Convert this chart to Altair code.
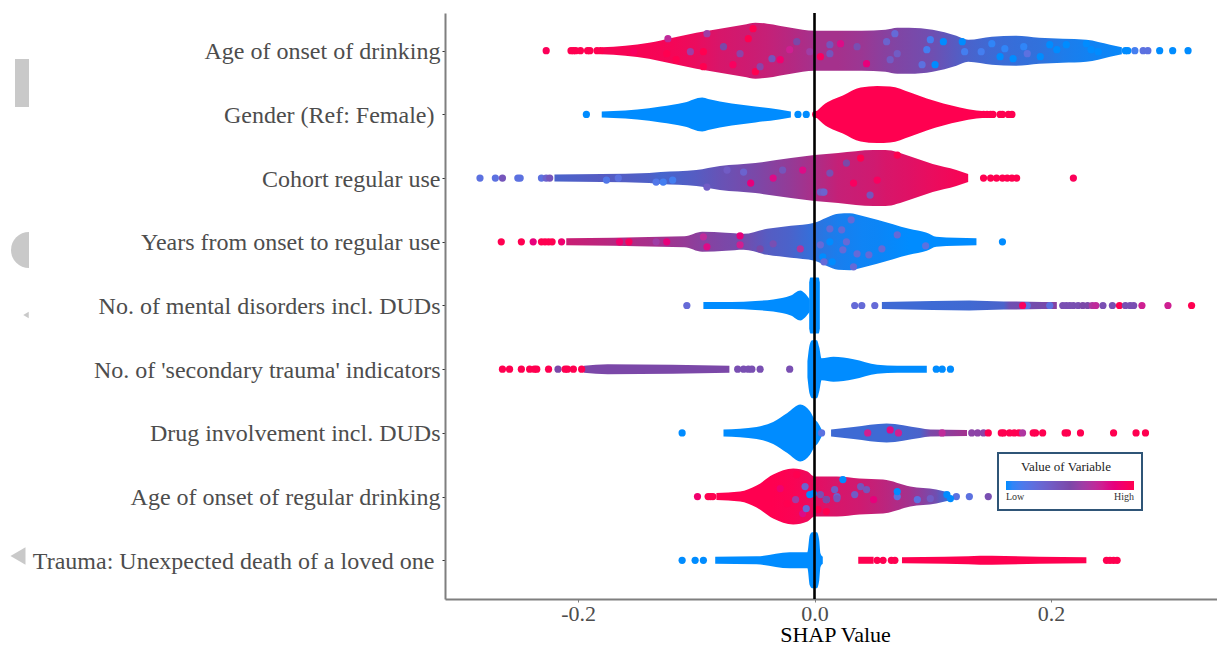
import altair as alt
import pandas as pd

ROW_GAP = 63.7
LOW, MID, HIGH = "#008cff", "#7b48a8", "#ff0050"
SERIF = "Liberation Serif"

features = [
    "Age of onset of drinking",
    "Gender (Ref: Female)\u00a0\u200b",
    "Cohort regular use",
    "Years from onset to regular use",
    "No. of mental disorders incl. DUDs",
    "No. of 'secondary trauma' indicators",
    "Drug involvement incl. DUDs",
    "Age of onset of regular drinking",
    "Trauma: Unexpected death of a loved one\u00a0\u200b",
]

# Swarm outlines: row, SHAP values, half thickness, feature value
lobes = [
    (0, [-.18, -.16, -.14, -.12, -.10, -.08, -.06, -.05, -.04, -.02, 0, .02, .04, .06, .07, .08, .10, .12, .13, .15, .17, .19, .21, .23, .25, .26],
        [3.5, 5, 8, 13, 18, 22, 26, 28, 27, 23, 20, 20, 20, 21, 23, 23, 21, 15, 11, 14, 15, 13, 12, 11, 6, 3.5],
        [.97, .97, .97, .96, .92, .85, .82, .80, .78, .72, .66, .66, .62, .55, .52, .5, .45, .35, .3, .25, .22, .2, .12, .08, .05, .03]),
    (1, [-.18, -.17, -.15, -.13, -.11, -.095, -.09, -.07, -.05, -.03, -.02],
        [3, 3.5, 5, 8, 12, 17, 15.5, 11, 8, 5, 3], [0] * 11),
    (1, [.002, .007, .024, .039, .053, .064, .081, .095, .109, .123, .137, .142],
        [3.5, 9, 19, 27, 28.5, 28, 22, 16, 11, 7, 4, 3.5], [1] * 12),
    (2, [-.22, -.18, -.14, -.13, -.10, -.08, -.05, -.02, 0, .02, .05, .06, .08, .10, .12, .13],
        [3.5, 4, 5, 6, 8, 12, 15, 20, 23, 25, 28, 28, 22, 14, 8, 4],
        [.3, .35, .32, .28, .35, .42, .5, .6, .68, .78, .82, .85, .88, .92, .96, .97]),
    (3, [-.21, -.17, -.13, -.11, -.095, -.075, -.06, -.04, -.02, 0, .01, .02, .03, .04, .053, .08, .095, .103, .12, .137],
        [3.5, 4, 5, 5.5, 10, 9, 8, 13, 16, 19, 24, 28, 28.5, 26, 22, 13, 9, 5, 4, 3.5],
        [.8, .72, .65, .6, .55, .5, .48, .35, .3, .2, .15, .1, .08, .06, .05, 0, 0, 0, 0, 0]),
    (4, [-.094, -.07, -.05, -.035, -.02, -.012, -.008, -.004],
        [3.5, 3.5, 4.5, 6, 10, 15, 12, 6], [0] * 8),
    (4, [-.0045, -.0035, .0035, .0045], [23, 28, 28, 23], [0] * 4),
    (4, [.057, .10, .131, .16, .165, .193, .205],
        [3.5, 4.5, 5, 4, 4, 3.5, 3.5], [.25, .25, .26, .3, .45, .48, .55]),
    (5, [-.195, -.175, -.12, -.072], [3.5, 5, 4.5, 3.5], [.5, .5, .5, .5]),
    (5, [-.006, -.004, -.002, .002, .004, .006, .016, .033, .053, .07, .095],
        [8, 25, 29, 29, 22, 11, 12.5, 10, 4.5, 3.5, 3.5], [0] * 11),
    (6, [-.077, -.049, -.035, -.023, -.012, -.004, 0, .003, .006],
        [3.5, 6, 11, 20, 28.5, 22, 14, 10, 3.5], [0] * 9),
    (6, [.014, .033, .061, .089, .098, .129], [3.5, 6, 9.5, 5, 3.5, 3],
        [.25, .25, .25, .3, .5, .65]),
    (7, [-.083, -.063, -.049, -.035, -.018, -.006, 0, .019, .038, .058, .081, .103, .114],
        [3.5, 5, 11, 22, 28, 25, 20, 20, 18, 17, 10, 7, 4],
        [1, 1, 1, 1, .98, .94, .9, .85, .82, .75, .65, .45, .2]),
    (8, [-.084, -.049, -.021, -.006, -.004, -.002, .002, .004, .005, .007],
        [3.5, 4, 8, 8, 25, 28, 28, 20, 7, 3.5], [0] * 10),
    (8, [.037, .05], [3.5, 3.5], [1, 1]),
    (8, [.074, .11, .15, .19, .23], [3, 3.5, 4.5, 3.5, 3], [1] * 5),
]

# Isolated dots: SHAP value and feature value, per row
dots_x = {
    0: [-.227, -.206, -.204, -.202, -.198, -.192, -.190, -.184, -.181, .263, .265, .271, .278, .282, .292, .303, .316],
    1: [-.193, -.014, -.007, .001, .143, .146, .149, .151, .157, .159, .164, .167],
    2: [-.283, -.270, -.264, -.251, -.249, -.231, -.227, -.224, .143, .149, .154, .159, .163, .167, .171, .219],
    3: [-.265, -.248, -.238, -.231, -.228, -.225, -.222, -.214, .159],
    4: [-.108, .034, .040, .051, .21, .213, .216, .219, .223, .227, .231, .235, .238, .244, .252, .258, .263, .267, .27, .277, .299, .319],
    5: [-.264, -.258, -.248, -.241, -.237, -.235, -.225, -.217, -.211, -.209, -.204, -.197, -.065, -.060, -.056, -.053, -.046, -.021, .103, .108, .115],
    6: [-.112, .006, .133, .138, .143, .147, .158, .160, .165, .169, .173, .176, .185, .187, .193, .212, .214, .225, .253, .272, .28],
    7: [-.099, -.09, -.088, -.086, .120, .131, .147],
    8: [-.112, -.101, -.094, .053, .058, .065, .068, .247, .25, .253, .256],
}
dots_c = {
    0: [.97, 1, 1, 1, 1, 1, 1, 1, 1, 0, 0, .1, .2, .2, 0, 0, 0],
    1: [0, 0, 0, 1, 1, 1, 1, 1, 1, 1, 1, 1],
    2: [.2, .2, .4, .2, .2, .2, .3, .4, 1, 1, 1, 1, 1, 1, 1, .97],
    3: [1, 1, .85, 1, 1, 1, 1, .9, 0],
    4: [.25, .25, .25, .25, .45, .45, .45, .45, .45, .5, .5, .65, .7, .45, .45, 1, .45, .45, .45, .75, .75, 1],
    5: [1, 1, 1, 1, 1, 1, 1, .5, 1, 1, 1, 1, .45, .45, .45, .45, .45, .45, 0, 0, 0],
    6: [0, .2, .55, .55, .55, 1, 1, 1, 1, 1, 1, .65, 1, 1, 1, 1, 1, 1, 1, 1, 1],
    7: [.9, 1, 1, 1, .2, .2, .45],
    8: [0, 0, 0, 1, 1, 1, 1, 1, 1, 1, 1],
}

# Distinct dots seen inside the swarms: SHAP value, offset from the row centre, feature value
spots_x = {
    0: [-.153, -.124, -.091, -.105, -.094, -.094, -.056, -.052, -.036, -.050, -.063, -.077, -.015, .013, -.004, -.029, -.046, -.117, -.125, -.069, -.021,
        .068, .061, .070, .095, .098, .091, .102, .109, .127, .125, .141, .150, .157, .168, .177, .191, .199, .205, .213, .230, .234, .240, .161, .180, .005, .022, .044, .013, .036, .064],
    2: [-.166, -.176, -.134, -.120, -.128, -.091, -.054, -.074, -.060, -.035, -.010, .007, -.027, .005, .008, .039, .070, .047, .013, .033, .053, .027],
    3: [-.165, -.157, -.134, -.125, -.094, -.091, -.063, -.063, -.012, -.035, -.046, .007, .013, .015,
        .005, .013, .023, .027, .031, .036, .046, .033, .057, .070, .094, .008, .024],
    4: [.180, .199, .176],
    6: [.045, .064, .071, .108],
    7: [-.001, -.008, -.016, -.015, -.029, -.039, -.023, -.010, .010, .019, -.007,
        .024, .017, .034, .039, .044, .005, .010, .019, .070, .070, .087, .098, .112, .115, .003, .010, -.004, .050],
}
spots_off = {
    0: [1, -12, -17, 1, 1, 16, -12, -22, 8, 21, 3, -4, -9, -6, 1, 9, 16, 9, 3, 14, -1,
        -17, -9, 3, -1, -11, 14, 14, -9, 1, -9, 1, -7, 6, 8, -4, 6, -6, -1, -6, -7, -1, 1, -2, 3, 6, -7, 13, 3, -4, 9],
    2: [0, 2, 4, 2, 4, 9, 5, -8, -6, 0, -8, 14, -8, 14, 14, -20, -23, 17, -5, 5, 2, -15],
    3: [0, 0, 0, 0, -5, 5, -6, 3, 7, 2, 7, 15, 0, 20, 3, -13, -12, 0, -22, 12, 13, 25, 7, -7, 4, 20, 8],
    4: [0, 0, 0],
    6: [0, -3, 0, 0],
    7: [-3, -10, 3, -22, -8, 7, 7, 17, 3, 0, 12, -17, -7, -2, -10, -7, -2, 3, 2, 0, -5, 3, 2, -2, 2, 13, 15, -2, 3],
}
spots_c = {
    0: [.95, .7, .6, .6, 1, 1, 1, 1, .4, 1, .55, .5, .5, .4, .6, .9, .55, 1, 1, .95, .75,
        .25, .3, .35, .1, .1, .2, 0, 0, .1, 0, .1, .05, 0, 0, .05, 0, 0, 0, 0, 0, 0, 0, .05, .2, .95, .8, .85, .4, .45, .35],
    2: [.2, .15, .15, .1, .1, .35, .85, .35, .3, .8, .8, .35, .4, .35, .3, 1, 1, .4, .45, .95, .95, .5],
    3: [.9, .95, .6, .85, .7, .8, .85, .75, .65, .45, .5, 0, 0, 0,
        .25, .25, .25, .25, .25, .25, .25, .25, .25, .25, .2, .25, .25],
    4: [.2, .2, .95],
    6: [.75, .8, .75, .7],
    7: [0, .3, .6, 1, .9, 1, 1, .8, .3, .3, .25, 0, .35, .35, .4, .4, .45, .5, .4, .2, 0, .2, .35, 0, 0, 1, 1, 0, .85],
}

x_ticks = [-0.2, 0.0, 0.2]
x_tick_labels = ["-0.2", "0.0", "0.2"]


def mix(c):
    def rgb(h):
        return [int(h[i:i + 2], 16) for i in (1, 3, 5)]
    a, b, t = (LOW, MID, c * 2) if c < .5 else (MID, HIGH, c * 2 - 1)
    return "#" + "".join(f"{round(p + (q - p) * t):02x}" for p, q in zip(rgb(a), rgb(b)))


x_scale = alt.Scale(domain=[-0.3126, 0.3405], nice=False, zero=False)
y_scale = alt.Scale(domain=[8.608, -0.592], nice=False, zero=False)

label_lookup = "[" + ",".join('"' + f.replace("'", "\\'") + '"' for f in features) + "][datum.value]"
tick_lookup = f"datum.value<0?'{x_tick_labels[0]}':datum.value>0?'{x_tick_labels[2]}':'{x_tick_labels[1]}'"

x_axis = alt.Axis(values=x_ticks, labelExpr=tick_lookup, grid=False,
                  domainColor="#7f7f7f", domainWidth=2, tickColor="#7f7f7f",
                  tickSize=3, labelFont=SERIF, labelFontSize=22, labelColor="#4d4d4d",
                  labelPadding=1, titleFont=SERIF, titleFontSize=22,
                  titleFontWeight="normal", titleColor="#000000",
                  titleX=390, titleY=42, titleBaseline="alphabetic")
y_axis = alt.Axis(values=list(range(len(features))), labelExpr=label_lookup, grid=False,
                  domainColor="#7f7f7f", domainWidth=2, tickColor="#333333",
                  tickSize=3, labelFont=SERIF, labelFontSize=24, labelColor="#4d4d4d",
                  labelPadding=2, labelLimit=600, labelOffset=1)

layers = []
for row, xs, hws, cs in lobes:
    df = pd.DataFrame({
        "x": xs,
        "top": [row - h / ROW_GAP for h in hws],
        "bot": [row + h / ROW_GAP for h in hws],
    })
    span = xs[-1] - xs[0]
    stops = [alt.GradientStop(color=mix(c), offset=(x - xs[0]) / span) for x, c in zip(xs, cs)]
    layers.append(
        alt.Chart(df).mark_area(
            interpolate="monotone",
            color=alt.Gradient(gradient="linear", stops=stops, x1=0, x2=1, y1=0, y2=0),
        ).encode(
            x=alt.X("x:Q", scale=x_scale, title="SHAP Value", axis=x_axis),
            y=alt.Y("top:Q", scale=y_scale, title=None, axis=y_axis),
            y2="bot:Q",
        )
    )

records = []
for row, xs in dots_x.items():
    records += [{"x": x, "y": row, "c": c} for x, c in zip(xs, dots_c[row])]
for row, xs in spots_x.items():
    records += [{"x": x, "y": row + o / ROW_GAP, "c": c}
                for x, o, c in zip(xs, spots_off[row], spots_c[row])]

dots = alt.Chart(pd.DataFrame(records)).mark_circle(size=52, opacity=1).encode(
    x=alt.X("x:Q", scale=x_scale, title="SHAP Value", axis=x_axis),
    y=alt.Y("y:Q", scale=y_scale, title=None, axis=y_axis),
    color=alt.Color("c:Q", scale=alt.Scale(domain=[0, 1], range=[LOW, MID, HIGH]),
                    legend=alt.Legend(
                        orient="none", legendX=553, legendY=440, direction="horizontal",
                        title="Value of Variable", titleFont=SERIF, titleFontSize=13,
                        titleFontWeight="normal", titleColor="#222222", titleAnchor="middle",
                        titlePadding=7, gradientLength=128, gradientThickness=9,
                        values=[0, 1], labelExpr="datum.value==0?'Low':'High'",
                        labelFont=SERIF, labelFontSize=10, labelColor="#333333",
                        fillColor="#ffffff", strokeColor="#2f5577", padding=8)),
)

zero_line = alt.Chart(pd.DataFrame({"x": [0.0]})).mark_rule(color="#000000", strokeWidth=2.6).encode(
    x=alt.X("x:Q", scale=x_scale, title="SHAP Value", axis=x_axis)
)

# Grey remnants along the left edge of the source image
one = pd.DataFrame({"a": [0]})
GREY = "#c9c9c9"
blob_rect = alt.Chart(one).mark_rect(color=GREY).encode(
    x=alt.value(-430), x2=alt.value(-416), y=alt.value(46), y2=alt.value(94))
blob_arc = alt.Chart(one).mark_arc(color=GREY, radius=18, theta=3.1416, theta2=6.2832).encode(
    x=alt.value(-416), y=alt.value(237))
blob_tri = alt.Chart(one).mark_point(shape="triangle-left", filled=True, color=GREY, opacity=1, size=300).encode(
    x=alt.value(-427), y=alt.value(543))
blob_small = alt.Chart(one).mark_point(shape="triangle-left", filled=True, color=GREY, opacity=1, size=40).encode(
    x=alt.value(-419), y=alt.value(302))

chart = alt.layer(
    *layers, dots, zero_line, blob_rect, blob_arc, blob_tri, blob_small
).resolve_scale(x="shared", y="shared").properties(
    width=772,
    height=586,
    padding={"left": 437, "top": 5, "right": 0, "bottom": 46},
    autosize=alt.AutoSizeParams(type="none"),
    background="#ffffff",
).configure_view(stroke=None).configure_legend(strokeWidth=2)

chart.save("out.html", embed_options={"renderer": "svg", "actions": False})
